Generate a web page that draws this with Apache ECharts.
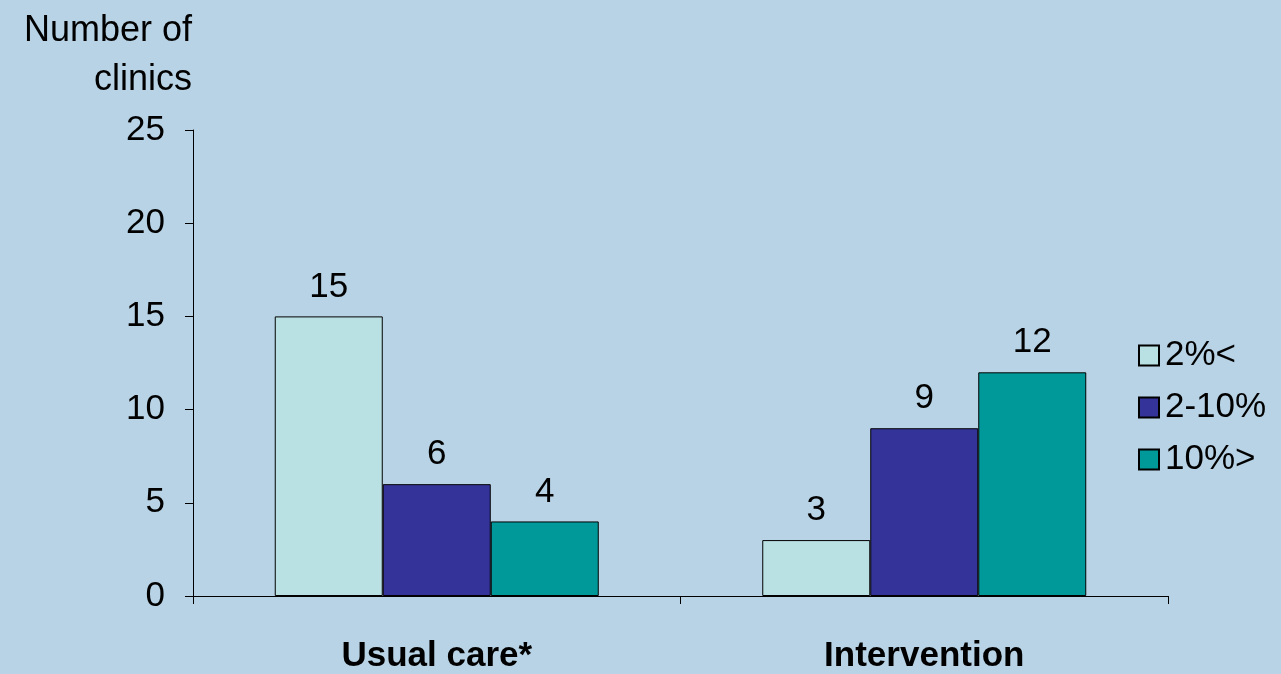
<!DOCTYPE html>
<html>
<head>
<meta charset="utf-8">
<script src="https://cdn.jsdelivr.net/npm/echarts@6/dist/echarts.min.js"></script>
<style>
html,body{margin:0;padding:0;background:#B8D3E5;overflow:hidden;}
#c{width:1281px;height:674px;}
</style>
</head>
<body>
<div id="c"></div>
<script>
const categories = ['Usual care*', 'Intervention'];
const seriesNames = ['2%<', '2-10%', '10%>'];
const lowValues = [15, 3];
const midValues = [6, 9];
const highValues = [4, 12];
const colors = ['#B9E0E3', '#333399', '#009999'];

const chart = echarts.init(document.getElementById('c'));
const font = 'Liberation Sans, Arial, sans-serif';
const makeSeries = (name, data, color) => ({
  name: name,
  type: 'bar',
  data: data,
  barWidth: 108,
  barGap: '0%',
  itemStyle: { color: color, borderColor: '#000', borderWidth: 1 },
  label: { show: true, position: 'top', distance: 12, fontSize: 35, color: '#000', fontFamily: font },
  emphasis: { disabled: true }
});
chart.setOption({
  backgroundColor: '#B8D3E5',
  animation: false,
  textStyle: { fontFamily: font },
  grid: { left: 193, right: 113, top: 130, bottom: 74, containLabel: false },
  legend: {
    orient: 'vertical',
    left: 1133,
    top: 333,
    itemWidth: 20,
    itemHeight: 20,
    itemGap: 17,
    icon: 'rect',
    textStyle: { fontSize: 35, lineHeight: 35, color: '#000', fontFamily: font, padding: [0, 0, 0, 1] },
    data: seriesNames
  },
  graphic: [{
    type: 'text',
    x: 192,
    y: 56,
    style: { text: 'Number of\nclinics', fontSize: 36, fontFamily: font, fill: '#000', align: 'right', verticalAlign: 'middle', lineHeight: 49 }
  }],
  xAxis: {
    type: 'category',
    data: categories,
    axisLine: { lineStyle: { color: '#000', width: 1 } },
    axisTick: { show: true, length: 8, lineStyle: { color: '#000' } },
    axisLabel: { fontSize: 35, fontWeight: 'bold', color: '#000', margin: 43, fontFamily: font }
  },
  yAxis: {
    type: 'value',
    min: 0, max: 25, interval: 5,
    axisLine: { show: true, lineStyle: { color: '#000', width: 1 } },
    axisTick: { show: true, length: 8, lineStyle: { color: '#000' } },
    splitLine: { show: false },
    axisLabel: { fontSize: 35, color: '#000', margin: 28, fontFamily: font }
  },
  series: [
    makeSeries(seriesNames[0], lowValues, colors[0]),
    makeSeries(seriesNames[1], midValues, colors[1]),
    makeSeries(seriesNames[2], highValues, colors[2])
  ]
});
</script>
</body>
</html>
